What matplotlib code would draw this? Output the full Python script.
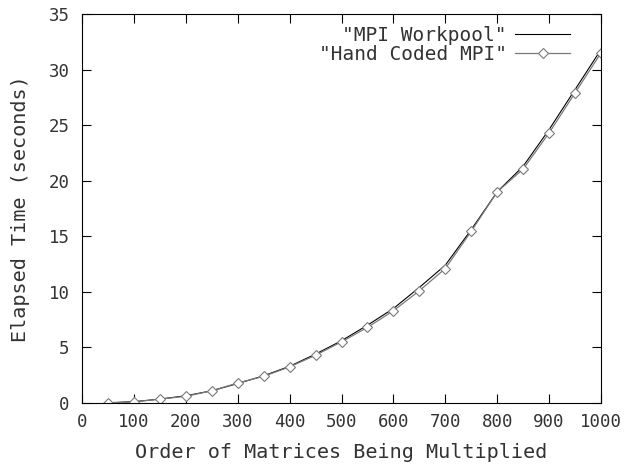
import numpy as np
import matplotlib
matplotlib.use("Agg")
import matplotlib.pyplot as plt

# Order of the matrices
orden = [50, 100, 150, 200, 250, 300, 350, 400, 450, 500,
         550, 600, 650, 700, 750, 800, 850, 900, 950, 1000]

# Elapsed time (seconds)
workpool = [0.02, 0.12, 0.35, 0.65, 1.1, 1.75, 2.45, 3.3, 4.4, 5.6,
            7.0, 8.5, 10.4, 12.4, 15.6, 19.0, 21.3, 24.6, 28.2, 31.8]
hand_coded = [0.0, 0.1, 0.35, 0.6, 1.1, 1.8, 2.4, 3.25, 4.3, 5.5,
              6.8, 8.3, 10.1, 12.1, 15.45, 19.0, 21.05, 24.3, 27.9, 31.5]

x_ticks = list(range(0, 1001, 100))
y_ticks = list(range(0, 36, 5))

plt.rcParams["font.family"] = ["DejaVu Sans Mono"]
plt.rcParams["font.size"] = 12.5

fig = plt.figure(figsize=(6.26, 4.67), dpi=100)
ax = fig.add_axes([82 / 626, 64 / 467, 519 / 626, 389 / 467])

ax.plot(orden, workpool, color="black", lw=0.8, label='"MPI Workpool"')
ax.plot(orden, hand_coded, color="#7a7a7a", lw=0.9, marker="D",
        markersize=5, markerfacecolor="white", markeredgecolor="#7a7a7a",
        markeredgewidth=0.8, label='"Hand Coded MPI"')

ax.set_xlim(0, 1000)
ax.set_ylim(0, 35)
ax.set_xticks(x_ticks)
ax.set_yticks(y_ticks)
ax.tick_params(direction="in", length=6.5, width=0.8, top=True, right=True,
               colors="black", labelcolor="#333333", labelsize=12.5)
ax.tick_params(axis="x", pad=7)
ax.tick_params(axis="y", pad=9)
for s in ax.spines.values():
    s.set_linewidth(0.8)

ax.set_xlabel("Order of Matrices Being Multiplied", color="#333333",
              fontsize=14.5, labelpad=9)
ax.set_ylabel("Elapsed Time (seconds)", color="#333333",
              fontsize=14.5, labelpad=13)

leg = ax.legend(loc="upper right", frameon=False, markerfirst=False,
                handlelength=2.8, handletextpad=0.45, labelspacing=0.0,
                borderaxespad=0.0, bbox_to_anchor=(0.955, 0.99),
                fontsize=14)
for t in leg.get_texts():
    t.set_color("#333333")

fig.savefig("out.png", dpi=100)
